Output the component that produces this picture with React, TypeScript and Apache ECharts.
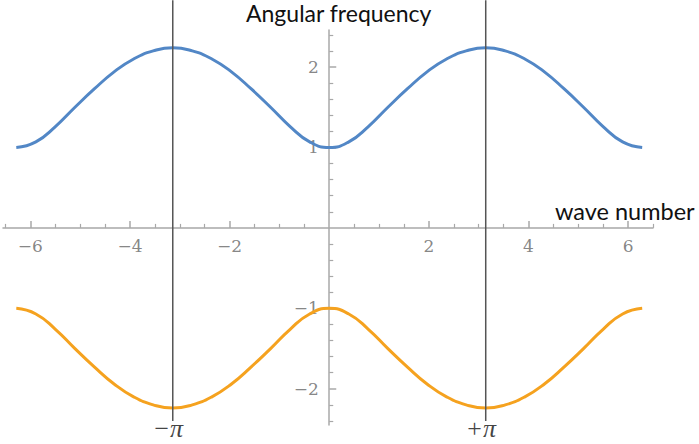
import React, { useEffect, useRef } from "react";
import * as echarts from "echarts";

// wave numbers (step pi/8 from -2pi to 2pi)
const waveNumbers = [
  -6.283, -5.890, -5.498, -5.105, -4.712, -4.320, -3.927, -3.534, -3.142,
  -2.749, -2.356, -1.963, -1.571, -1.178, -0.785, -0.393, 0,
  0.393, 0.785, 1.178, 1.571, 1.963, 2.356, 2.749, 3.142,
  3.534, 3.927, 4.320, 4.712, 5.105, 5.498, 5.890, 6.283,
];
// upper (blue) branch
const upperBranch = [
  1.0, 1.07, 1.26, 1.5, 1.73, 1.94, 2.1, 2.2, 2.24,
  2.2, 2.1, 1.94, 1.73, 1.5, 1.26, 1.07, 1.0,
  1.07, 1.26, 1.5, 1.73, 1.94, 2.1, 2.2, 2.24,
  2.2, 2.1, 1.94, 1.73, 1.5, 1.26, 1.07, 1.0,
];
// lower (orange) branch
const lowerBranch = [
  -1.0, -1.07, -1.26, -1.5, -1.73, -1.94, -2.1, -2.2, -2.24,
  -2.2, -2.1, -1.94, -1.73, -1.5, -1.26, -1.07, -1.0,
  -1.07, -1.26, -1.5, -1.73, -1.94, -2.1, -2.2, -2.24,
  -2.2, -2.1, -1.94, -1.73, -1.5, -1.26, -1.07, -1.0,
];

const xMajorTicks = [-6, -4, -2, 2, 4, 6];
const xMinorTicks = [
  -6.5, -5.5, -5, -4.5, -3.5, -3, -2.5, -1.5, -1, -0.5,
  0.5, 1, 1.5, 2.5, 3, 3.5, 4.5, 5, 5.5, 6.5,
];
const yMajorTicks = [-2, -1, 1, 2];
const yMinorTicks = [
  -2.4, -2.2, -1.8, -1.6, -1.4, -1.2, -0.8, -0.6, -0.4, -0.2,
  0.2, 0.4, 0.6, 0.8, 1.2, 1.4, 1.6, 1.8, 2.2, 2.4,
];

const piMarks = [-Math.PI, Math.PI];
const piLabels = ["−π", "+π"];
const piLineTop = 2.83;
const piLineBottom = -2.4;

const fmt = (v: number) => (v < 0 ? "−" + String(-v) : String(v));

export default function App() {
  const ref = useRef<HTMLDivElement>(null);
  useEffect(() => {
    if (!ref.current) return;
    const chart = echarts.init(ref.current, null, { renderer: "svg" });
    const axisColor = "#a8a8a8";
    const labelStyle = {
      color: "#666",
      fontFamily: "DejaVu Serif",
      fontSize: 17,
    };
    const xBase = {
      type: "value" as const,
      min: -6.55,
      max: 6.5,
      position: "bottom" as const,
      splitLine: { show: false },
      axisLabel: { show: false },
    };
    const yBase = {
      type: "value" as const,
      min: -2.45,
      max: 2.46,
      position: "left" as const,
      splitLine: { show: false },
      axisLabel: { show: false },
    };
    const piSeries = piMarks.map((x) => ({
      type: "line",
      xAxisIndex: 0,
      yAxisIndex: 0,
      clip: false,
      silent: true,
      symbol: "none",
      lineStyle: { color: "#555", width: 1.5 },
      data: [
        [x, piLineTop],
        [x, piLineBottom],
      ],
    }));
    const labelSeries = (data: number[][], position: string, distance: number, textOf: (p: number[], i: number) => string, extra: any) => ({
      type: "scatter",
      xAxisIndex: 0,
      yAxisIndex: 0,
      clip: false,
      silent: true,
      symbolSize: 1,
      itemStyle: { color: "rgba(0,0,0,0)" },
      data,
      label: {
        show: true,
        position,
        distance,
        formatter: (p: any) => textOf(p.value, p.dataIndex),
        ...extra,
      },
    });
    chart.setOption({
      animation: false,
      backgroundColor: "#fff",
      title: [
        {
          text: "Angular frequency",
          left: 241,
          top: -4,
          textStyle: { fontFamily: "Lato", fontSize: 23, fontWeight: "normal", color: "#111" },
        },
        {
          text: "wave number",
          left: 550,
          top: 194,
          textStyle: { fontFamily: "Lato", fontSize: 23.5, fontWeight: "normal", color: "#111" },
        },
      ],
      grid: {
        left: 3,
        right: 46,
        top: 30,
        bottom: 19,
        containLabel: false,
        outerBoundsMode: "none",
      },
      xAxis: [
        {
          ...xBase,
          axisLine: { show: true, onZero: true, lineStyle: { color: axisColor, width: 1.5 } },
          axisTick: {
            show: true,
            inside: true,
            length: 7,
            customValues: xMajorTicks,
            lineStyle: { color: axisColor, width: 1.5 },
          },
        },
        {
          ...xBase,
          axisLine: { show: false, onZero: true },
          axisTick: {
            show: true,
            inside: true,
            length: 4,
            customValues: xMinorTicks,
            lineStyle: { color: axisColor, width: 1.2 },
          },
        },
      ],
      yAxis: [
        {
          ...yBase,
          axisLine: { show: true, onZero: true, lineStyle: { color: axisColor, width: 1.5 } },
          axisTick: {
            show: true,
            inside: true,
            length: 7,
            customValues: yMajorTicks,
            lineStyle: { color: axisColor, width: 1.5 },
          },
        },
        {
          ...yBase,
          axisLine: { show: false, onZero: true },
          axisTick: {
            show: true,
            inside: true,
            length: 4,
            customValues: yMinorTicks,
            lineStyle: { color: axisColor, width: 1.2 },
          },
        },
      ],
      series: [
        {
          type: "line",
          smooth: true,
          symbol: "none",
          xAxisIndex: 0,
          yAxisIndex: 0,
          lineStyle: { color: "#5287c6", width: 3 },
          data: waveNumbers.map((k, i) => [k, upperBranch[i]]),
        },
        {
          type: "line",
          smooth: true,
          symbol: "none",
          xAxisIndex: 0,
          yAxisIndex: 0,
          lineStyle: { color: "#f5a21f", width: 3 },
          data: waveNumbers.map((k, i) => [k, lowerBranch[i]]),
        },
        ...piSeries,
        labelSeries(xMajorTicks.map((v) => [v, 0]), "bottom", 9, (p) => fmt(p[0]), labelStyle),
        labelSeries(yMajorTicks.map((v) => [0, v]), "left", 10, (p) => fmt(p[1]), labelStyle),
        labelSeries(piMarks.map((v) => [v, piLineBottom]), "bottom", 0, (_p, i) => piLabels[i], {
          color: "#111",
          fontFamily: "Liberation Serif",
          fontStyle: "italic",
          fontSize: 26,
          offset: [-5, -6],
        }),
      ],
    });
    return () => chart.dispose();
  }, []);
  return <div ref={ref} style={{ width: 699, height: 444, position: "fixed", left: 0, top: 0 }} />;
}
